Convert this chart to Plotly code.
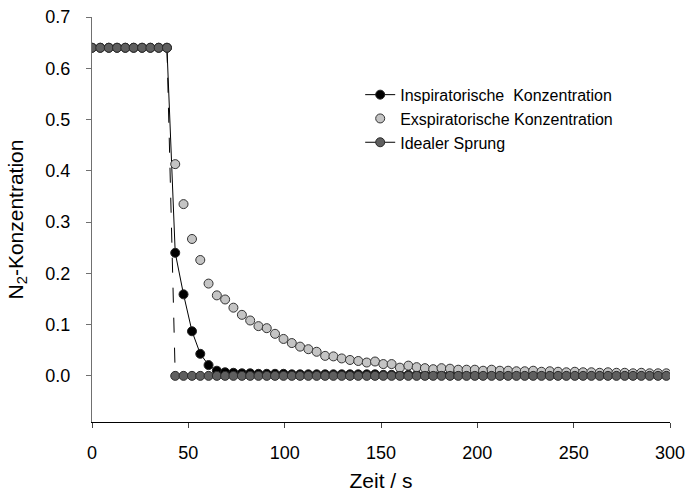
import plotly.graph_objects as go

# time points (s)
times = [0.0, 4.3, 8.7, 13.0, 17.3, 21.6, 26.0, 30.3, 34.6, 38.9,
         43.2, 47.5, 51.9, 56.2, 60.5, 64.8, 69.1, 73.4, 77.8, 82.1,
         86.4, 90.7, 95.0, 99.4, 103.7, 108.0, 112.3, 116.6, 121.0, 125.3,
         129.6, 133.9, 138.2, 142.6, 146.9, 151.2, 155.5, 159.8, 164.2, 168.5,
         172.8, 177.1, 181.4, 185.8, 190.1, 194.4, 198.7, 203.0, 207.4, 211.7,
         216.0, 220.3, 224.6, 229.0, 233.3, 237.6, 241.9, 246.2, 250.6, 254.9,
         259.2, 263.5, 267.8, 272.2, 276.5, 280.8, 285.1, 289.4, 293.8, 298.1]

inspiratory = [0.64] * 10 + [
    0.240, 0.159, 0.087, 0.043, 0.021, 0.010, 0.007, 0.006, 0.005, 0.005,
    0.004, 0.004, 0.004, 0.004, 0.003, 0.003, 0.003, 0.003, 0.003, 0.003,
    0.003, 0.003, 0.003, 0.003, 0.003, 0.002, 0.002, 0.002, 0.002, 0.002,
    0.002, 0.002, 0.002, 0.002, 0.002, 0.002, 0.002, 0.002, 0.002, 0.002,
    0.002, 0.002, 0.002, 0.002, 0.002, 0.002, 0.002, 0.002, 0.002, 0.002,
    0.002, 0.002, 0.002, 0.002, 0.002, 0.002, 0.002, 0.002, 0.002, 0.002]

expiratory = [None] * 10 + [
    0.413, 0.335, 0.267, 0.226, 0.180, 0.157, 0.149, 0.133, 0.119, 0.108,
    0.097, 0.093, 0.082, 0.072, 0.064, 0.057, 0.052, 0.047, 0.039, 0.038,
    0.034, 0.031, 0.029, 0.026, 0.028, 0.023, 0.023, 0.016, 0.020, 0.017,
    0.015, 0.013, 0.015, 0.014, 0.012, 0.012, 0.012, 0.010, 0.012, 0.010,
    0.010, 0.009, 0.009, 0.010, 0.008, 0.009, 0.008, 0.007, 0.008, 0.007,
    0.007, 0.006, 0.007, 0.006, 0.006, 0.005, 0.006, 0.005, 0.005, 0.005]

ideal = [0.64] * 10 + [0.0] * 60
jump_index = 10  # first point after the ideal step

x_ticks = [0, 50, 100, 150, 200, 250, 300]
y_ticks = [0.0, 0.1, 0.2, 0.3, 0.4, 0.5, 0.6, 0.7]

FONT = "Arial, 'Liberation Sans', sans-serif"
MS = 9

fig = go.Figure()

fig.add_trace(go.Scatter(
    x=times, y=inspiratory, mode="lines+markers",
    name="Inspiratorische\u00a0 Konzentration",
    line=dict(color="black", width=1),
    marker=dict(size=MS, color="black", line=dict(color="#222", width=1)),
))

fig.add_trace(go.Scatter(
    x=times, y=expiratory, mode="markers",
    name="Exspiratorische Konzentration",
    marker=dict(size=MS, color="#c4c4c4", line=dict(color="#333", width=1)),
))

# dashed vertical step of the ideal curve
fig.add_trace(go.Scatter(
    x=[times[jump_index - 1], times[jump_index]],
    y=[ideal[jump_index - 1], ideal[jump_index]],
    mode="lines", showlegend=False, hoverinfo="skip",
    line=dict(color="black", width=1, dash="longdash"),
))

ideal_x = times[:jump_index] + [None] + times[jump_index:]
ideal_y = ideal[:jump_index] + [None] + ideal[jump_index:]
fig.add_trace(go.Scatter(
    x=ideal_x, y=ideal_y, mode="lines+markers",
    name="Idealer Sprung",
    line=dict(color="black", width=1),
    marker=dict(size=MS, color="#5f5f5f", line=dict(color="#2a2a2a", width=1)),
    connectgaps=False,
))

fig.update_layout(
    width=687, height=492,
    margin=dict(l=92, r=17, t=17, b=70),
    plot_bgcolor="white", paper_bgcolor="white",
    font=dict(family=FONT, size=17, color="black"),
    showlegend=True,
    legend=dict(
        x=0.464, y=0.85, xanchor="left", yanchor="top",
        bgcolor="rgba(0,0,0,0)", font=dict(size=16, family=FONT),
        tracegroupgap=0, itemwidth=30,
    ),
    xaxis=dict(
        range=[0, 300], tickvals=x_ticks, ticks="outside", ticklen=5,
        showline=True, linecolor="black", linewidth=1, showgrid=False,
        zeroline=False, tickfont=dict(size=18), automargin=False,
        ticklabelstandoff=9,
        title=dict(text="Zeit / s", font=dict(size=21), standoff=12),
    ),
    yaxis=dict(
        range=[-0.09, 0.7], tickvals=y_ticks, tickformat=".1f",
        ticks="outside", ticklen=5, showline=True, linecolor="#707070",
        tickcolor="#707070", linewidth=1, showgrid=False, zeroline=False,
        tickfont=dict(size=18), automargin=False, ticklabelstandoff=12,
        title=dict(text="N<sub>2</sub>-Konzentration", font=dict(size=21), standoff=16),
    ),
)

fig.write_html("out.html")
